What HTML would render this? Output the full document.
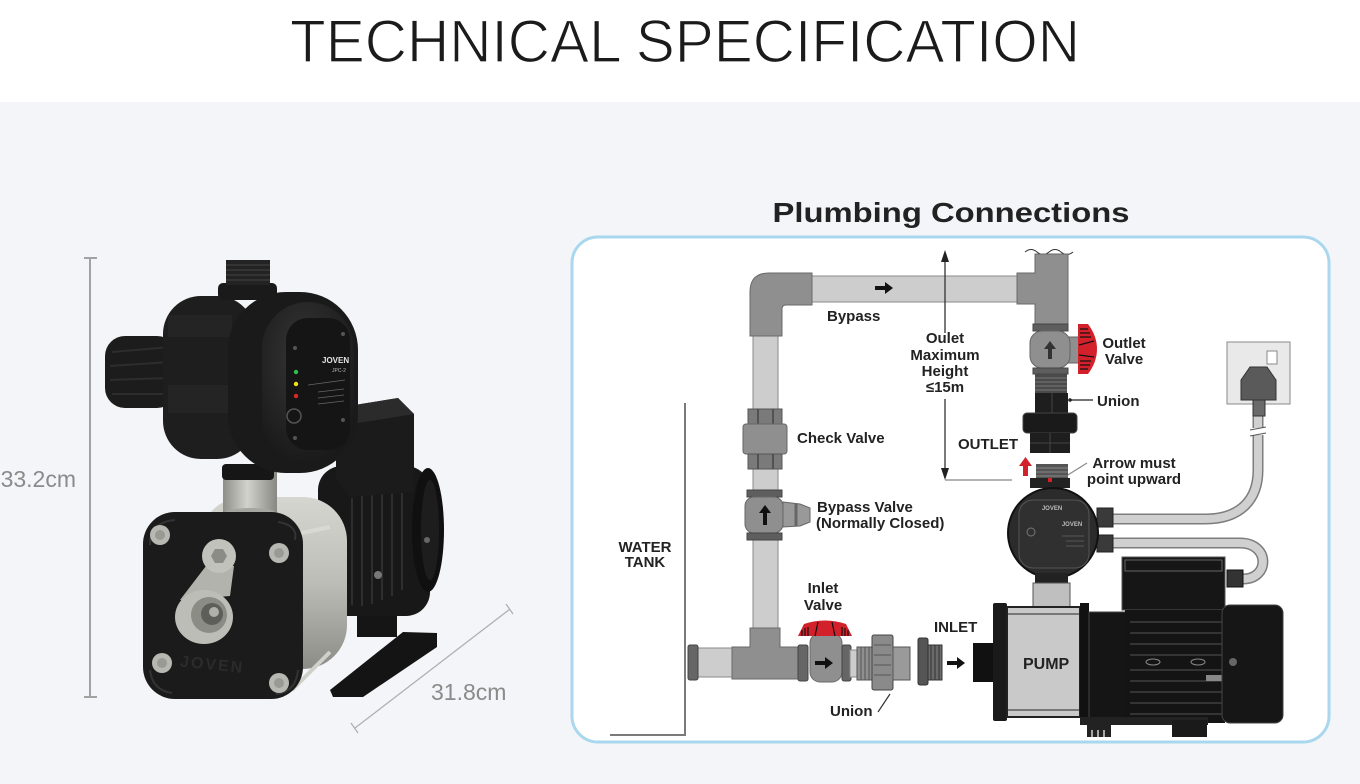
<!DOCTYPE html>
<html><head><meta charset="utf-8">
<style>
html,body{margin:0;padding:0;width:1360px;height:784px;overflow:hidden;background:#f4f5f8;}
svg{display:block;}
text{font-family:"Liberation Sans",Arial,sans-serif;}
.lb{font-weight:bold;font-size:15px;fill:#222;}
</style></head><body>
<svg width="1360" height="784" viewBox="0 0 1360 784" xmlns="http://www.w3.org/2000/svg">
<defs>
 <linearGradient id="steel" x1="0" y1="0" x2="0" y2="1">
  <stop offset="0" stop-color="#d6d6d1"/><stop offset="0.5" stop-color="#bdbdb8"/><stop offset="1" stop-color="#8c8c87"/>
 </linearGradient>
 <linearGradient id="neck" x1="0" y1="0" x2="1" y2="0">
  <stop offset="0" stop-color="#8f8f8a"/><stop offset="0.45" stop-color="#d2d2cd"/><stop offset="1" stop-color="#888883"/>
 </linearGradient>
 <radialGradient id="cover" cx="0.45" cy="0.35" r="0.75">
  <stop offset="0" stop-color="#363636"/><stop offset="1" stop-color="#161616"/>
 </radialGradient>
</defs>

<!-- header -->
<rect x="0" y="0" width="1360" height="102" fill="#fff"/>
<text transform="translate(685,62) scale(1,1.18)" x="0" y="0" text-anchor="middle" font-size="51" fill="#1b1b1b" stroke="#fff" stroke-width="1.1" textLength="790" lengthAdjust="spacingAndGlyphs">TECHNICAL SPECIFICATION</text>

<!-- ===== LEFT: dimensions ===== -->
<line x1="90" y1="258" x2="90" y2="697" stroke="#a2a2a2" stroke-width="2"/>
<line x1="84" y1="258" x2="97" y2="258" stroke="#a2a2a2" stroke-width="2"/>
<line x1="84" y1="697" x2="97" y2="697" stroke="#a2a2a2" stroke-width="2"/>
<text x="76" y="487" text-anchor="end" font-size="23" fill="#8a8a8a">33.2cm</text>
<line x1="355" y1="728" x2="510" y2="609" stroke="#b0b0b0" stroke-width="1.3"/>
<line x1="351" y1="723" x2="358" y2="733" stroke="#b0b0b0" stroke-width="1.3"/>
<line x1="506" y1="604" x2="513" y2="614" stroke="#b0b0b0" stroke-width="1.3"/>
<text x="431" y="700" font-size="23" fill="#8a8a8a">31.8cm</text>

<!-- ===== LEFT: pump photo ===== -->
<!-- feet -->
<path d="M330,690 L403,632 L437,633 L437,647 L363,697 L333,697 Z" fill="#141414"/>
<rect x="357" y="605" width="40" height="32" fill="#151515"/>
<!-- motor -->
<rect x="318" y="466" width="112" height="150" rx="24" fill="#181818"/>
<ellipse cx="428" cy="530" rx="16" ry="62" fill="#101010"/>
<ellipse cx="430" cy="530" rx="9" ry="50" fill="#1d1d1d"/>
<g stroke="#2e2e2e" stroke-width="2">
<line x1="352" y1="498" x2="352" y2="605"/><line x1="362" y1="495" x2="362" y2="606"/>
<line x1="372" y1="492" x2="372" y2="604"/><line x1="382" y1="490" x2="382" y2="600"/>
<line x1="392" y1="490" x2="392" y2="596"/><line x1="402" y1="492" x2="402" y2="590"/>
</g>
<circle cx="378" cy="575" r="4" fill="#777"/>
<circle cx="427" cy="540" r="3" fill="#666"/>
<!-- terminal box -->
<path d="M336,408 L398,398 L414,414 L414,492 L350,497 L336,480 Z" fill="#1b1b1b"/>
<path d="M336,408 L398,398 L414,414 L352,424 Z" fill="#2b2b2b"/>
<!-- steel body -->
<rect x="200" y="497" width="147" height="172" rx="44" fill="url(#steel)"/>
<line x1="292" y1="535" x2="330" y2="527" stroke="#d9d9d4" stroke-width="4"/>
<line x1="292" y1="690" x2="330" y2="652" stroke="#d0d0cb" stroke-width="4"/>
<!-- neck -->
<rect x="223" y="465" width="54" height="50" fill="url(#neck)"/>
<ellipse cx="250" cy="514" rx="27" ry="6" fill="#a6a6a1"/>
<!-- controller body -->
<rect x="105" y="336" width="72" height="72" rx="20" fill="#1c1c1c"/>
<g stroke="#2d2d2d" stroke-width="2">
<line x1="112" y1="352" x2="170" y2="347"/><line x1="110" y1="366" x2="170" y2="362"/>
<line x1="110" y1="380" x2="170" y2="378"/><line x1="112" y1="394" x2="170" y2="394"/>
</g>
<rect x="163" y="296" width="92" height="163" rx="38" fill="#1e1e1e"/>
<rect x="168" y="315" width="64" height="22" fill="#242424"/>
<rect x="168" y="385" width="64" height="28" fill="#242424"/>
<rect x="222" y="464" width="52" height="16" rx="4" fill="#161616"/>
<rect x="228" y="292" width="130" height="181" rx="58" fill="#1a1a1a"/>
<rect x="262" y="302" width="92" height="162" rx="46" fill="url(#cover)"/>
<rect x="286" y="318" width="64" height="132" rx="22" fill="#151515"/>
<circle cx="295" cy="348" r="2" fill="#555"/>
<circle cx="343" cy="334" r="2" fill="#555"/>
<circle cx="295" cy="438" r="2" fill="#555"/>
<circle cx="343" cy="420" r="2" fill="#555"/>
<circle cx="296" cy="372" r="2.2" fill="#2fc24a"/>
<circle cx="296" cy="384" r="2.2" fill="#f2e21c"/>
<circle cx="296" cy="396" r="2.2" fill="#e0262a"/>
<text x="322" y="363" font-size="8" font-weight="bold" fill="#e5e5e5">JOVEN</text>
<text x="332" y="372" font-size="5" fill="#bbb">JPC-2</text>
<g stroke="#666" stroke-width="0.8">
<line x1="308" y1="385" x2="345" y2="380"/><line x1="318" y1="392" x2="344" y2="389"/>
<line x1="318" y1="398" x2="344" y2="395"/><line x1="318" y1="404" x2="344" y2="401"/>
</g>
<circle cx="294" cy="416" r="7" fill="none" stroke="#555" stroke-width="1.5"/>
<!-- top fitting -->
<rect x="218" y="283" width="59" height="17" rx="5" fill="#1a1a1a"/>
<rect x="226" y="260" width="44" height="25" fill="#232323"/>
<g stroke="#3b3b3b" stroke-width="1.5">
<line x1="226" y1="265" x2="270" y2="265"/><line x1="226" y1="270" x2="270" y2="270"/>
<line x1="226" y1="275" x2="270" y2="275"/><line x1="226" y1="280" x2="270" y2="280"/>
</g>
<!-- front flange -->
<rect x="143" y="512" width="160" height="187" rx="32" fill="#1b1b1b"/>
<path d="M150,545 Q150,522 175,520 M295,540 Q298,525 278,522 M150,670 Q152,690 172,693 M298,670 Q296,692 276,694" stroke="#333" stroke-width="2" fill="none"/>
<g fill="#b8b8b2">
<circle cx="160" cy="535" r="10"/><circle cx="279" cy="553" r="10"/>
<circle cx="162" cy="663" r="10"/><circle cx="279" cy="683" r="10"/>
</g>
<g fill="#9a9a95">
<circle cx="160" cy="535" r="5"/><circle cx="279" cy="553" r="5"/>
<circle cx="162" cy="663" r="5"/><circle cx="279" cy="683" r="5"/>
</g>
<path d="M206,566 L234,566 L230,596 L180,600 Z" fill="#b3b3ad"/>
<ellipse cx="204" cy="617" rx="29" ry="27" fill="#bdbdb7"/>
<ellipse cx="209" cy="615" rx="18" ry="18" fill="#8c8c87"/>
<circle cx="212" cy="614" r="11" fill="#5d5d59"/>
<circle cx="214" cy="612" r="5" fill="#b0b0aa"/>
<circle cx="219" cy="556" r="17" fill="#c2c2bc"/>
<polygon points="227,556 223,563 215,563 211,556 215,549 223,549" fill="#8c8c87"/>
<text x="180" y="670" font-size="16" font-weight="bold" fill="#2b2b2b" letter-spacing="2" transform="rotate(6 215 665)">JOVEN</text>

<!-- ===== RIGHT: Plumbing ===== -->
<text x="951" y="222" text-anchor="middle" font-size="28" font-weight="bold" fill="#222" textLength="357" lengthAdjust="spacingAndGlyphs">Plumbing Connections</text>
<rect x="572" y="237" width="757" height="505" rx="26" fill="#fff" stroke="#a9d8ee" stroke-width="3"/>

<!-- water tank -->
<polyline points="685,403 685,735 610,735" fill="none" stroke="#7a7a7a" stroke-width="2"/>

<!-- bypass pipes -->
<rect x="810" y="276" width="210" height="26" fill="#cdcdcd" stroke="#8a8a8a" stroke-width="1"/>
<rect x="753" y="333" width="25" height="297" fill="#cdcdcd" stroke="#8a8a8a" stroke-width="1"/>
<path d="M750,336 L750,292 Q750,273 769,273 L812,273 L812,305 L786,305 Q782,305 782,309 L782,336 Z" fill="#8f8f8f" stroke="#6a6a6a" stroke-width="1"/>
<path d="M875,286 L885,286 L885,282 L893,288 L885,294 L885,290 L875,290 Z" fill="#111"/>
<text class="lb" x="827" y="321">Bypass</text>

<!-- check valve -->
<rect x="748" y="409" width="34" height="15" fill="#7a7a7a" stroke="#555"/>
<line x1="758" y1="409" x2="758" y2="424" stroke="#444" stroke-width="1.5"/>
<line x1="773" y1="409" x2="773" y2="424" stroke="#444" stroke-width="1.5"/>
<rect x="743" y="424" width="44" height="30" rx="3" fill="#8f8f8f" stroke="#666"/>
<rect x="748" y="454" width="34" height="15" fill="#7a7a7a" stroke="#555"/>
<line x1="758" y1="454" x2="758" y2="469" stroke="#444" stroke-width="1.5"/>
<line x1="773" y1="454" x2="773" y2="469" stroke="#444" stroke-width="1.5"/>
<text class="lb" x="797" y="443">Check Valve</text>

<!-- bypass valve -->
<rect x="747" y="490" width="35" height="7" fill="#5e5e5e" stroke="#444"/>
<path d="M783,502 L800,504 L810,508 L810,522 L800,526 L783,527 Z" fill="#999" stroke="#666"/>
<line x1="796" y1="504" x2="796" y2="526" stroke="#666" stroke-width="3"/>
<rect x="745" y="497" width="38" height="36" rx="9" fill="#8f8f8f" stroke="#666"/>
<rect x="747" y="533" width="35" height="7" fill="#5e5e5e" stroke="#444"/>
<path d="M763,525 L763,513 L759,513 L765,505 L771,513 L767,513 L767,525 Z" fill="#111"/>
<text class="lb" x="817" y="512">Bypass Valve</text>
<text class="lb" x="816" y="528">(Normally Closed)</text>

<text class="lb" x="645" y="552" text-anchor="middle">WATER</text>
<text class="lb" x="645" y="567" text-anchor="middle">TANK</text>

<!-- bottom T and inlet line -->
<rect x="697" y="648" width="36" height="29" fill="#cdcdcd" stroke="#8a8a8a"/>
<rect x="688" y="645" width="10" height="35" rx="2" fill="#666" stroke="#444"/>
<path d="M750,628 L780,628 L780,647 L798,647 L798,679 L732,679 L732,647 L750,647 Z" fill="#8f8f8f" stroke="#6a6a6a"/>
<!-- inlet valve -->
<rect x="798" y="645" width="10" height="36" rx="2" fill="#666" stroke="#444"/>
<rect x="810" y="633" width="32" height="49" rx="10" fill="#8f8f8f" stroke="#6a6a6a"/>
<rect x="842" y="645" width="9" height="36" rx="2" fill="#666" stroke="#444"/>
<path d="M798,636 L804,624 Q825,617 846,624 L852,636 Z" fill="#d3212b"/>
<g stroke="#111" stroke-width="1.2">
<line x1="802" y1="630" x2="802" y2="636"/><line x1="805" y1="628" x2="805" y2="636"/><line x1="808" y1="627" x2="808" y2="636"/>
<line x1="842" y1="627" x2="842" y2="636"/><line x1="845" y1="628" x2="845" y2="636"/><line x1="848" y1="630" x2="848" y2="636"/>
<line x1="815" y1="636" x2="818" y2="622"/><line x1="835" y1="636" x2="832" y2="622"/>
</g>
<path d="M815,661 L825,661 L825,657 L833,663 L825,669 L825,665 L815,665 Z" fill="#111"/>
<text class="lb" x="823" y="593" text-anchor="middle">Inlet</text>
<text class="lb" x="823" y="610" text-anchor="middle">Valve</text>
<!-- inlet union -->
<rect x="850" y="650" width="8" height="27" fill="#cdcdcd" stroke="#8a8a8a"/>
<rect x="857" y="647" width="16" height="33" fill="#8f8f8f" stroke="#555"/>
<g stroke="#555" stroke-width="1"><line x1="861" y1="647" x2="861" y2="680"/><line x1="865" y1="647" x2="865" y2="680"/><line x1="869" y1="647" x2="869" y2="680"/></g>
<rect x="872" y="635" width="21" height="55" rx="2" fill="#8a8a8a" stroke="#444"/>
<g stroke="#555" stroke-width="1"><line x1="874" y1="645" x2="891" y2="645"/><line x1="874" y1="655" x2="891" y2="655"/><line x1="874" y1="665" x2="891" y2="665"/><line x1="874" y1="675" x2="891" y2="675"/></g>
<rect x="893" y="647" width="17" height="33" fill="#9a9a9a" stroke="#555"/>
<rect x="918" y="638" width="10" height="47" rx="2" fill="#555" stroke="#333"/>
<rect x="928" y="645" width="14" height="35" fill="#6a6a6a" stroke="#333"/>
<g stroke="#333" stroke-width="1"><line x1="931" y1="645" x2="931" y2="680"/><line x1="935" y1="645" x2="935" y2="680"/><line x1="939" y1="645" x2="939" y2="680"/></g>
<path d="M947,661 L957,661 L957,657 L965,663 L957,669 L957,665 L947,665 Z" fill="#111"/>
<text class="lb" x="934" y="632">INLET</text>
<line x1="878" y1="712" x2="890" y2="694" stroke="#333" stroke-width="1.2"/>
<text class="lb" x="830" y="716">Union</text>

<!-- height dimension -->
<line x1="945" y1="258" x2="945" y2="333" stroke="#333" stroke-width="1.3"/>
<path d="M941,262 L945,250 L949,262 Z" fill="#222"/>
<line x1="945" y1="399" x2="945" y2="472" stroke="#333" stroke-width="1.3"/>
<path d="M941,468 L945,480 L949,468 Z" fill="#222"/>
<line x1="945" y1="480" x2="1012" y2="480" stroke="#888" stroke-width="1.2"/>
<text class="lb" x="945" y="343" text-anchor="middle">Oulet</text>
<text class="lb" x="945" y="360" text-anchor="middle">Maximum</text>
<text class="lb" x="945" y="376" text-anchor="middle">Height</text>
<text class="lb" x="945" y="392" text-anchor="middle">≤15m</text>

<!-- outlet T -->
<path d="M1025,252 q6,-5 12,0 t12,0 t12,0 t12,0" fill="none" stroke="#333" stroke-width="1"/>
<path d="M1017,273 L1035,273 L1035,254 L1068,254 L1068,324 L1035,324 L1035,304 L1017,304 Z" fill="#8f8f8f" stroke="#6a6a6a"/>
<!-- outlet valve -->
<rect x="1033" y="324" width="35" height="7" fill="#5e5e5e" stroke="#444"/>
<rect x="1066" y="337" width="14" height="26" fill="#8f8f8f" stroke="#666"/>
<path d="M1078,324 L1088,324 Q1097,336 1097,349 Q1097,362 1088,374 L1078,374 Z" fill="#d3212b"/>
<g stroke="#111" stroke-width="1.2">
<line x1="1080" y1="329" x2="1088" y2="329"/><line x1="1080" y1="333" x2="1090" y2="333"/><line x1="1080" y1="337" x2="1091" y2="337"/>
<line x1="1080" y1="361" x2="1091" y2="361"/><line x1="1080" y1="365" x2="1090" y2="365"/><line x1="1080" y1="369" x2="1088" y2="369"/>
<line x1="1079" y1="345" x2="1094" y2="341"/><line x1="1079" y1="355" x2="1094" y2="357"/>
</g>
<rect x="1030" y="331" width="40" height="37" rx="12" fill="#8f8f8f" stroke="#666"/>
<rect x="1033" y="368" width="35" height="6" fill="#5e5e5e" stroke="#444"/>
<path d="M1048,359 L1048,349 L1044,349 L1050,341 L1056,349 L1052,349 L1052,359 Z" fill="#333"/>
<text class="lb" x="1124" y="348" text-anchor="middle">Outlet</text>
<text class="lb" x="1124" y="364" text-anchor="middle">Valve</text>
<!-- union black -->
<rect x="1035" y="374" width="32" height="19" fill="#4a4a4a"/>
<g stroke="#777" stroke-width="1"><line x1="1035" y1="378" x2="1067" y2="378"/><line x1="1035" y1="382" x2="1067" y2="382"/><line x1="1035" y1="386" x2="1067" y2="386"/><line x1="1035" y1="390" x2="1067" y2="390"/></g>
<rect x="1035" y="393" width="33" height="20" fill="#1e1e1e"/>
<line x1="1052" y1="393" x2="1052" y2="413" stroke="#444"/>
<rect x="1023" y="413" width="54" height="20" rx="4" fill="#1a1a1a" stroke="#444"/>
<rect x="1030" y="433" width="40" height="20" fill="#1e1e1e"/>
<line x1="1030" y1="443" x2="1070" y2="443" stroke="#444"/>
<line x1="1050" y1="433" x2="1050" y2="453" stroke="#444"/>
<line x1="1070" y1="400" x2="1093" y2="400" stroke="#222" stroke-width="1.2"/>
<circle cx="1070" cy="400" r="1.8" fill="#222"/>
<text class="lb" x="1097" y="406">Union</text>
<text class="lb" x="958" y="449">OUTLET</text>
<path d="M1023,476 L1023,466 L1019,466 L1025.5,457 L1032,466 L1028,466 L1028,476 Z" fill="#d3212b"/>
<line x1="1087" y1="463" x2="1055" y2="483" stroke="#888" stroke-width="1.2"/>
<text class="lb" x="1134" y="468" text-anchor="middle">Arrow must</text>
<text class="lb" x="1134" y="484" text-anchor="middle">point upward</text>

<!-- socket & cables -->
<path d="M1113,519 L1205,519 C1240,519 1258,500 1258,470 L1258,412" fill="none" stroke="#7d7d7d" stroke-width="11"/>
<path d="M1113,519 L1205,519 C1240,519 1258,500 1258,470 L1258,412" fill="none" stroke="#d0d0d0" stroke-width="8"/>
<rect x="1250" y="428" width="16" height="7" fill="#fff"/>
<line x1="1250" y1="430" x2="1266" y2="427" stroke="#555"/>
<line x1="1250" y1="436" x2="1266" y2="433" stroke="#555"/>
<path d="M1113,543 L1240,543 C1270,543 1270,579 1243,579" fill="none" stroke="#7d7d7d" stroke-width="11"/>
<path d="M1113,543 L1240,543 C1270,543 1270,579 1243,579" fill="none" stroke="#d0d0d0" stroke-width="8"/>
<rect x="1227" y="342" width="63" height="62" fill="#e9e9e9" stroke="#8a8a8a"/>
<rect x="1267" y="351" width="10" height="13" fill="#fff" stroke="#888"/>
<path d="M1241,400 L1241,380 L1250,367 L1267,367 L1276,380 L1276,400 Z" fill="#5a5a5a" stroke="#333"/>
<rect x="1253" y="400" width="12" height="16" fill="#6a6a6a" stroke="#333"/>

<!-- controller -->
<rect x="1036" y="464" width="32" height="15" fill="#555"/>
<g stroke="#888" stroke-width="1"><line x1="1036" y1="468" x2="1068" y2="468"/><line x1="1036" y1="472" x2="1068" y2="472"/><line x1="1036" y1="476" x2="1068" y2="476"/></g>
<rect x="1030" y="478" width="40" height="10" fill="#222"/>
<rect x="1048" y="478" width="4" height="4" fill="#d3212b"/>
<rect x="1097" y="508" width="16" height="19" fill="#3a3a3a" stroke="#222"/>
<rect x="1097" y="535" width="16" height="17" fill="#3a3a3a" stroke="#222"/>
<circle cx="1053" cy="533" r="45" fill="#2b2b2b" stroke="#111" stroke-width="2"/>
<rect x="1019" y="500" width="70" height="68" rx="14" fill="#303030" stroke="#555"/>
<text x="1052" y="510" font-size="6" font-weight="bold" fill="#bbb" text-anchor="middle">JOVEN</text>
<text x="1072" y="526" font-size="6" font-weight="bold" fill="#bbb" text-anchor="middle">JOVEN</text>
<g stroke="#666" stroke-width="0.7"><line x1="1062" y1="536" x2="1084" y2="536"/><line x1="1066" y1="541" x2="1084" y2="541"/><line x1="1066" y1="546" x2="1084" y2="546"/></g>
<circle cx="1031" cy="532" r="4" fill="none" stroke="#777"/>
<rect x="1035" y="573" width="33" height="10" fill="#222"/>
<rect x="1033" y="583" width="37" height="26" fill="#bfbfbf" stroke="#555"/>

<!-- pump -->
<rect x="973" y="643" width="21" height="39" fill="#111"/>
<rect x="993" y="603" width="14" height="118" rx="2" fill="#1a1a1a"/>
<rect x="1007" y="607" width="73" height="110" fill="#c9c9c9" stroke="#222" stroke-width="2"/>
<line x1="1008" y1="614" x2="1079" y2="614" stroke="#777" stroke-width="2"/>
<line x1="1008" y1="710" x2="1079" y2="710" stroke="#777" stroke-width="2"/>
<text x="1023" y="669" font-size="16" font-weight="bold" fill="#222">PUMP</text>
<rect x="1080" y="603" width="9" height="119" fill="#111"/>
<rect x="1089" y="612" width="38" height="106" fill="#151515" stroke="#444"/>
<rect x="1122" y="557" width="103" height="53" fill="#161616" stroke="#555"/>
<rect x="1125" y="560" width="97" height="11" fill="none" stroke="#666"/>
<rect x="1227" y="570" width="16" height="17" fill="#333" stroke="#111"/>
<rect x="1125" y="610" width="100" height="113" fill="#141414"/>
<g stroke="#555" stroke-width="1">
<line x1="1130" y1="622" x2="1222" y2="622"/><line x1="1130" y1="633" x2="1222" y2="633"/>
<line x1="1130" y1="644" x2="1222" y2="644"/><line x1="1130" y1="655" x2="1222" y2="655"/>
<line x1="1130" y1="670" x2="1222" y2="670"/><line x1="1130" y1="681" x2="1222" y2="681"/>
<line x1="1130" y1="692" x2="1222" y2="692"/><line x1="1130" y1="703" x2="1222" y2="703"/>
<line x1="1130" y1="714" x2="1222" y2="714"/>
</g>
<ellipse cx="1153" cy="662" rx="7" ry="3" fill="none" stroke="#888"/>
<ellipse cx="1198" cy="662" rx="7" ry="3" fill="none" stroke="#888"/>
<rect x="1206" y="675" width="16" height="6" fill="#888"/>
<rect x="1222" y="605" width="61" height="118" rx="8" fill="#161616" stroke="#444"/>
<circle cx="1233" cy="662" r="4" fill="#666"/>
<rect x="1080" y="717" width="128" height="8" fill="#222"/>
<rect x="1087" y="725" width="24" height="12" fill="#222"/>
<g stroke="#fff" stroke-width="1.2"><line x1="1092" y1="730" x2="1092" y2="737"/><line x1="1098" y1="730" x2="1098" y2="737"/><line x1="1104" y1="730" x2="1104" y2="737"/></g>
<rect x="1172" y="720" width="35" height="17" fill="#1a1a1a"/>
</svg>
</body></html>
